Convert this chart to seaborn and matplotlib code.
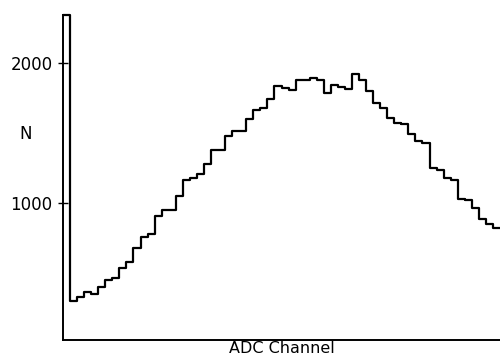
import numpy as np
import pandas as pd
import matplotlib
matplotlib.use("Agg")
import matplotlib.pyplot as plt
import seaborn as sns

# Pulse-height spectrum: counts per ADC channel
counts = [
    2350, 294, 325, 361, 346, 396, 444, 461, 528, 571,
    672, 751, 772, 903, 946, 946, 1047, 1161, 1178, 1209,
    1281, 1376, 1376, 1477, 1518, 1518, 1601, 1668, 1682, 1742,
    1837, 1826, 1811, 1878, 1878, 1897, 1878, 1790, 1842, 1830,
    1814, 1921, 1883, 1799, 1715, 1680, 1608, 1575, 1568, 1491,
    1443, 1429, 1252, 1238, 1178, 1166, 1025, 1018, 963, 880,
    846, 815,
]
channels = list(range(len(counts)))
ytick_values = [1000, 2000]
ytick_labels = ["1000", "2000"]

sns.set_theme(style="white")
plt.rcParams["font.family"] = ["DejaVu Sans"]

df = pd.DataFrame({"channel": channels, "N": counts})

fig = plt.figure(figsize=(5.0, 3.6), dpi=100)
ax = fig.add_axes([0.126, 0.0556, 0.874, 0.904])

sns.histplot(data=df, x="channel", weights="N", discrete=True,
             element="step", fill=False, color="black", linewidth=1.6,
             ax=ax, clip_on=False)

ax.set_xlim(-0.5, len(counts) - 0.5)
ax.set_ylim(15, 2350)

ax.set_xticks([])
ax.set_yticks(ytick_values)
ax.set_yticklabels(ytick_labels, fontsize=12)
ax.tick_params(axis="y", direction="inout", length=7, width=1.0,
               pad=4, colors="black", left=True)

for side in ("top", "right"):
    ax.spines[side].set_visible(False)
for side in ("left", "bottom"):
    ax.spines[side].set_color("black")
    ax.spines[side].set_linewidth(1.4)

ax.set_xlabel("ADC Channel", fontsize=11.5, labelpad=1, color="black")
ax.set_ylabel("")
fig.text(0.052, 0.628, "N", fontsize=12, ha="center", va="center", color="black")

fig.savefig("out.png", dpi=100)
